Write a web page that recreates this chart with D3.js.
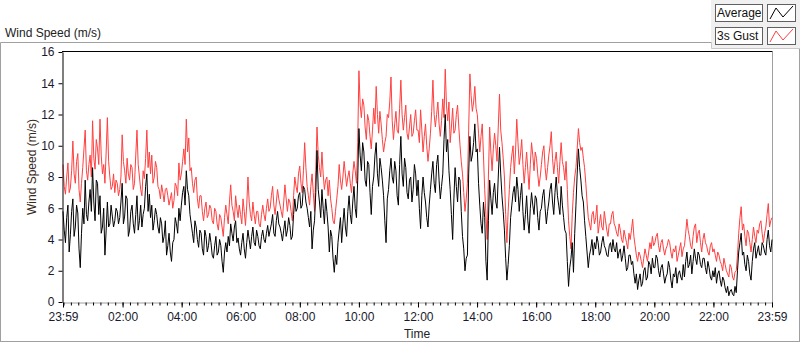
<!DOCTYPE html>
<html><head><meta charset="utf-8">
<script src="https://cdn.jsdelivr.net/npm/d3@7"></script>
<style>
html,body{margin:0;padding:0;background:#fff;}
svg text{font-family:"Liberation Sans",Arial,sans-serif;}
</style></head>
<body><svg id="c" width="800" height="342"></svg>
<script>
// ---- data (2.5-minute samples, 24 per hour, starting 23:59) ----
const avgSpeed = [
5.8,4.6,3.8,5.4,6.2,3.2,4.3,5.8,6.6,4.2,4.8,6.2,5.7,3.4,2.2,4.4,6.0,5.0,7.8,5.6,5.2,6.4,7.2,5.8,
8.6,6.4,5.2,7.8,7.6,5.6,6.8,4.4,4.8,6.0,3.0,4.6,6.4,4.8,5.0,6.2,5.5,4.8,5.2,6.0,5.8,5.0,5.4,6.4,
7.6,5.0,5.5,6.8,6.6,4.2,4.6,5.8,6.2,5.0,4.4,5.6,6.8,4.6,5.2,6.2,4.8,5.6,6.0,7.4,8.2,5.8,6.9,5.4,
6.2,4.6,5.2,6.0,5.6,4.8,4.4,5.4,5.0,3.8,4.2,5.2,3.0,3.6,4.4,3.2,2.6,3.8,4.0,5.4,5.0,4.4,6.0,5.2,
6.2,7.0,7.4,6.2,8.4,7.2,6.8,5.6,5.0,4.4,3.8,5.2,4.8,4.0,3.5,4.6,4.4,3.4,3.0,4.6,4.2,3.2,3.6,4.4,
3.8,3.0,2.8,3.6,4.2,3.0,3.2,4.0,3.6,2.6,1.9,3.2,3.8,3.2,4.2,3.6,5.0,4.4,3.9,4.8,5.2,3.8,4.1,3.4,
3.0,3.8,4.4,3.4,2.8,3.8,4.6,4.0,3.4,4.2,4.8,3.8,3.6,4.6,4.2,3.6,3.4,4.2,4.6,4.0,3.8,4.4,4.9,4.2,
4.6,5.0,5.6,4.4,4.2,5.2,5.8,5.0,4.8,4.4,3.9,4.6,5.2,4.2,4.6,5.4,4.9,4.0,4.2,5.6,6.6,5.8,6.0,6.8,
7.0,6.0,6.2,7.4,7.2,6.4,6.0,5.4,4.8,5.8,3.4,4.6,5.2,7.0,9.7,7.2,6.4,5.4,7.2,6.0,5.0,6.6,5.8,4.8,
3.2,4.6,4.2,2.8,1.9,3.0,2.4,3.8,4.6,5.4,3.8,5.0,6.0,4.8,4.2,5.8,6.8,5.6,5.0,6.4,7.4,6.0,5.4,7.8,
11.1,9.4,8.4,10.2,9.6,7.8,7.4,9.0,8.8,7.0,5.6,7.4,8.0,9.4,10.2,8.2,7.4,9.2,8.6,7.8,6.8,5.2,3.8,6.6,
7.2,8.4,9.2,8.0,7.6,9.0,8.4,6.8,6.2,8.8,10.6,8.2,7.4,9.2,8.6,7.0,6.6,7.8,8.0,6.4,7.2,8.8,8.2,6.8,
7.8,6.0,4.7,6.8,8.0,7.0,6.4,5.4,4.8,6.2,7.2,8.2,9.0,7.6,7.0,8.8,9.4,7.8,6.6,7.4,8.2,10.4,12.0,9.6,
10.4,8.4,7.2,5.6,4.0,6.6,8.6,7.4,6.4,8.0,7.8,5.8,4.2,3.4,2.0,2.8,3.0,8.2,10.6,9.0,9.4,10.2,11.4,9.6,
9.8,7.6,6.2,5.0,4.4,6.4,5.4,2.6,1.4,5.2,7.8,6.6,5.6,7.0,7.6,6.4,6.0,8.0,9.9,8.2,6.8,5.8,4.6,2.8,
1.4,2.4,3.6,5.4,6.2,7.0,7.4,6.4,8.0,7.2,5.8,6.8,7.6,5.8,4.6,5.6,6.8,5.2,4.4,6.0,7.0,6.2,5.6,6.8,
6.6,5.4,4.6,5.8,6.0,6.8,7.2,6.0,5.0,5.8,6.4,7.2,7.6,6.4,5.6,7.0,8.0,6.8,6.2,5.6,7.4,6.2,5.4,4.6,
4.4,2.6,1.0,2.2,2.8,3.8,1.9,4.4,6.2,8.2,9.8,8.6,7.8,6.8,6.4,5.2,4.2,3.2,2.2,3.0,3.4,4.0,3.0,3.8,
3.4,4.2,3.8,3.0,3.2,3.8,4.2,3.6,3.4,3.0,2.9,3.6,3.8,3.2,4.0,3.4,3.2,3.8,2.8,3.2,3.4,2.6,3.0,3.6,
2.8,2.0,2.2,3.0,3.0,2.4,2.6,1.8,1.2,1.8,0.8,1.4,1.8,1.0,1.2,2.0,2.2,1.4,1.6,2.6,2.4,1.8,2.8,2.2,
2.2,3.0,2.8,2.0,1.6,2.2,2.4,1.8,1.2,1.6,1.8,2.6,2.2,1.4,0.9,1.8,1.6,2.2,1.2,1.8,2.0,1.6,1.4,2.4,
1.6,2.6,3.2,2.2,2.4,3.0,1.8,2.6,3.4,2.8,2.4,3.2,3.0,2.4,2.2,2.8,2.8,2.2,1.8,2.6,2.2,1.6,1.4,2.0,
1.6,2.2,1.2,1.8,2.0,1.4,1.0,1.6,1.4,0.9,0.6,1.0,0.4,0.7,0.8,0.5,0.4,1.0,0.6,2.0,3.2,3.8,4.4,3.0,
3.2,2.4,2.0,3.0,2.6,1.8,1.4,2.6,3.4,3.8,2.8,3.2,3.6,3.0,3.0,3.8,3.6,3.2,3.0,4.0,4.6,3.6,3.2,4.0
];
const gustSpeed = [
8.8,7.4,6.9,8.0,8.9,7.0,7.3,8.4,10.3,8.2,7.6,9.0,9.5,7.2,6.4,7.6,8.6,9.8,11.0,8.4,7.8,8.8,9.4,8.0,
11.6,9.2,8.5,10.4,9.8,8.8,11.7,9.4,8.2,8.8,7.6,9.6,11.8,9.0,8.0,7.2,7.4,8.2,7.0,7.8,7.6,6.8,7.2,8.0,
10.7,9.0,8.4,7.6,9.2,8.2,7.8,8.8,8.6,7.2,7.6,9.4,11.0,8.8,8.0,7.2,6.8,8.4,7.9,9.2,11.0,8.6,9.6,8.2,
9.4,7.6,8.0,9.0,8.6,7.4,7.2,6.6,7.5,7.0,6.4,7.2,7.3,6.8,6.2,6.6,7.0,6.0,6.5,7.6,7.4,6.8,8.9,7.8,
8.2,9.0,9.8,8.8,11.7,9.6,10.5,8.4,8.6,7.6,7.0,7.8,8.0,6.6,6.0,6.8,6.8,5.8,5.2,6.0,6.4,5.4,5.6,6.2,
6.0,5.2,5.0,6.0,5.8,5.0,4.6,5.6,5.4,4.8,4.2,5.4,6.2,5.6,5.0,6.4,7.5,6.2,5.8,5.2,6.8,6.0,5.4,6.2,
5.6,5.0,6.6,5.8,4.9,6.2,8.0,6.4,5.6,5.2,6.4,5.6,5.0,5.8,5.8,5.0,4.8,5.6,6.2,5.6,5.2,6.0,6.6,5.8,
6.0,6.8,7.4,6.2,5.6,6.4,7.2,6.6,6.2,5.8,5.4,6.4,7.5,6.6,5.8,6.6,6.4,5.8,5.2,6.8,8.0,7.4,7.0,8.2,
8.7,7.6,7.0,8.4,10.2,8.6,7.4,6.8,6.2,7.4,8.2,7.0,5.8,8.4,11.2,9.4,8.6,8.0,9.6,8.2,7.2,7.8,8.0,6.8,
7.8,6.6,6.0,5.2,5.0,5.8,6.6,7.4,8.8,7.8,7.2,8.0,9.0,8.2,7.4,8.0,8.4,7.6,7.0,8.2,9.0,8.4,7.6,10.2,
14.8,12.6,11.8,13.0,12.6,11.2,10.4,12.0,11.6,10.6,9.8,11.0,12.4,11.4,13.8,12.0,10.8,12.2,11.4,10.4,9.6,10.2,10.6,12.0,
11.8,12.8,14.4,11.6,10.4,11.4,12.2,11.0,10.8,12.4,14.2,12.0,11.0,11.8,12.6,10.8,10.4,11.2,12.0,10.6,10.8,11.6,12.3,11.0,
11.0,10.2,12.3,11.0,9.6,10.6,11.4,10.0,9.0,9.8,10.8,12.2,14.2,12.0,11.2,12.0,12.8,11.4,10.6,11.6,13.0,11.8,14.9,12.6,
11.6,12.8,10.2,11.2,12.4,10.8,11.0,12.0,12.6,11.2,10.0,9.0,8.2,7.0,5.8,6.6,7.6,11.0,14.6,13.2,12.2,12.8,13.8,12.4,
12.0,10.8,9.6,10.6,11.4,9.4,7.2,5.6,4.0,8.0,11.2,9.6,8.4,9.8,10.8,10.0,9.0,11.2,13.3,11.0,10.2,9.2,8.0,5.6,
3.8,5.8,7.2,8.6,9.4,10.0,8.2,9.6,11.7,10.2,8.8,9.4,10.4,8.8,7.6,8.6,9.6,8.4,7.2,8.8,10.2,9.4,8.4,9.6,
9.2,8.2,7.4,8.0,8.8,9.6,10.0,8.6,7.8,8.6,9.4,10.0,10.9,9.2,8.2,9.0,9.6,8.6,7.6,9.0,10.2,9.0,8.6,7.8,
9.0,7.2,5.2,4.2,3.4,5.6,7.0,8.0,8.6,9.8,11.1,10.2,9.7,9.9,9.2,8.6,7.6,6.4,5.4,5.0,4.6,5.6,5.8,5.0,
5.4,6.2,4.4,5.0,5.6,4.8,4.6,5.8,5.2,4.6,4.2,5.0,5.0,5.6,5.8,5.0,4.8,4.4,4.2,5.0,4.6,4.0,3.8,4.6,
4.2,3.8,3.4,4.4,4.0,4.6,5.3,4.2,3.6,3.0,2.6,3.2,3.0,2.6,2.2,2.8,3.4,3.0,2.6,3.2,3.8,3.4,4.2,3.6,
3.8,4.2,4.4,3.6,3.2,3.8,4.0,3.4,3.0,3.4,3.6,4.0,3.8,3.2,2.8,3.4,3.2,3.6,2.6,3.0,3.4,3.8,2.9,3.4,
3.6,4.4,5.3,4.6,4.2,3.6,3.4,4.2,4.8,5.0,3.8,4.4,4.6,3.8,3.2,4.0,4.4,3.8,3.6,3.2,3.0,3.6,3.8,3.2,
3.4,3.0,2.6,3.2,3.0,2.6,2.4,2.0,2.8,2.4,2.0,1.8,1.6,2.4,2.2,1.6,1.4,1.9,2.0,3.0,4.4,5.4,6.1,4.6,
5.0,4.2,3.6,4.6,4.4,3.8,3.2,4.0,4.8,4.2,3.8,4.6,4.4,5.0,5.2,4.4,3.8,4.4,4.8,5.6,6.3,4.8,5.2,5.4
];
const xTickMinutes = [0,121,241,361,481,601,721,841,961,1081,1201,1321,1440];
const xTickLabels = ["23:59","02:00","04:00","06:00","08:00","10:00","12:00","14:00","16:00","18:00","20:00","22:00","23:59"];
const yTicks = [0,2,4,6,8,10,12,14,16];
const seriesNames = ["Average","3s Gust"];
const seriesColors = ["#000000","#ff4040"];

const svg = d3.select("#c");
const M = {left:62, right:772, top:52, bottom:302};
const x = d3.scaleLinear().domain([0,1440]).range([M.left+1, M.right]);
const y = d3.scaleLinear().domain([0,16]).range([M.bottom, M.top]);
const n = avgSpeed.length;
const times = d3.range(n).map(i => i*1440/(n-1));

// outer panel
svg.append("path").attr("d","M0.5,342 L0.5,42.5 L711,42.5").attr("fill","none").attr("stroke","#a0a0a0");
svg.append("path").attr("d","M799.5,48 L799.5,342").attr("fill","none").attr("stroke","#a0a0a0");
svg.append("path").attr("d","M0,341.5 L800,341.5").attr("fill","none").attr("stroke","#a0a0a0");
// legend panel
svg.append("rect").attr("x",711).attr("y",0).attr("width",89).attr("height",48).attr("fill","#f0f0f0");
svg.append("path").attr("d","M711.5,42 L711.5,48.5 L800,48.5").attr("fill","none").attr("stroke","#c8c8c8");
seriesNames.forEach((s,i)=>{
  const yy = 4 + i*23;
  svg.append("rect").attr("x",715.5).attr("y",yy+0.5).attr("width",47).attr("height",17).attr("fill","#fff").attr("stroke","#606060");
  svg.append("text").attr("x",717).attr("y",yy+13).attr("font-size",12).attr("fill","#111").text(s);
  svg.append("rect").attr("x",767.5).attr("y",yy+0.5).attr("width",28).attr("height",17).attr("fill","#fff").attr("stroke","#606060");
  svg.append("path").attr("d",`M770,${yy+15} L776,${yy+4} L783,${yy+13} L793,${yy+2}`).attr("fill","none").attr("stroke",seriesColors[i]).attr("stroke-width",1);
});

// title
svg.append("text").attr("x",5).attr("y",37).attr("font-size",12).attr("fill","#222").text("Wind Speed (m/s)");

// plot frame
svg.append("path").attr("d",`M${M.left},${M.top-0.5} L${M.right+0.5},${M.top-0.5}`).attr("fill","none").attr("stroke","#000");
svg.append("line").attr("x1",M.right+0.5).attr("x2",M.right+0.5).attr("y1",M.top).attr("y2",M.bottom).attr("stroke","#a0a0a0");

// lines
const line = d3.line().x((d,i)=>x(times[i])).y(d=>y(d));
svg.append("path").datum(gustSpeed).attr("d",line).attr("fill","none").attr("stroke",seriesColors[1]).attr("stroke-width",1);
svg.append("path").datum(avgSpeed).attr("d",line).attr("fill","none").attr("stroke",seriesColors[0]).attr("stroke-width",1);

// y axis
const yAxis = d3.axisLeft(y).tickValues(yTicks).tickSize(4).tickSizeOuter(0).tickFormat(d3.format("d"));
const gy = svg.append("g").attr("transform",`translate(${M.left+0.5},0)`).call(yAxis);
gy.select(".domain").attr("stroke","#000");
gy.selectAll("text").attr("font-size",12).attr("fill","#1a1a2e").attr("font-family","Liberation Sans, Arial, sans-serif").attr("dx",-1);

// x axis minor ticks
const minor = d3.range(1,1440,15).concat([1440]);
const gxm = svg.append("g").attr("transform",`translate(0,${M.bottom+0.5})`)
  .call(d3.axisBottom(x).tickValues(minor).tickSize(3).tickFormat(""));
gxm.select(".domain").attr("stroke","#a0a0a0");
const xAxis = d3.axisBottom(x).tickValues(xTickMinutes).tickSize(5).tickSizeOuter(0).tickFormat((d,i)=>xTickLabels[i]);
const gx = svg.append("g").attr("transform",`translate(0,${M.bottom+0.5})`).call(xAxis);
gx.select(".domain").remove();
gx.selectAll("text").attr("font-size",12).attr("fill","#1a1a2e").attr("dy","0.9em").attr("font-family","Liberation Sans, Arial, sans-serif");

// axis titles
svg.append("text").attr("x",417).attr("y",338).attr("text-anchor","middle").attr("font-size",12).attr("fill","#222").text("Time");
svg.append("text").attr("transform","translate(36,167) rotate(-90)").attr("text-anchor","middle").attr("font-size",12).attr("fill","#3a2a1a").text("Wind Speed (m/s)");
</script></body></html>
